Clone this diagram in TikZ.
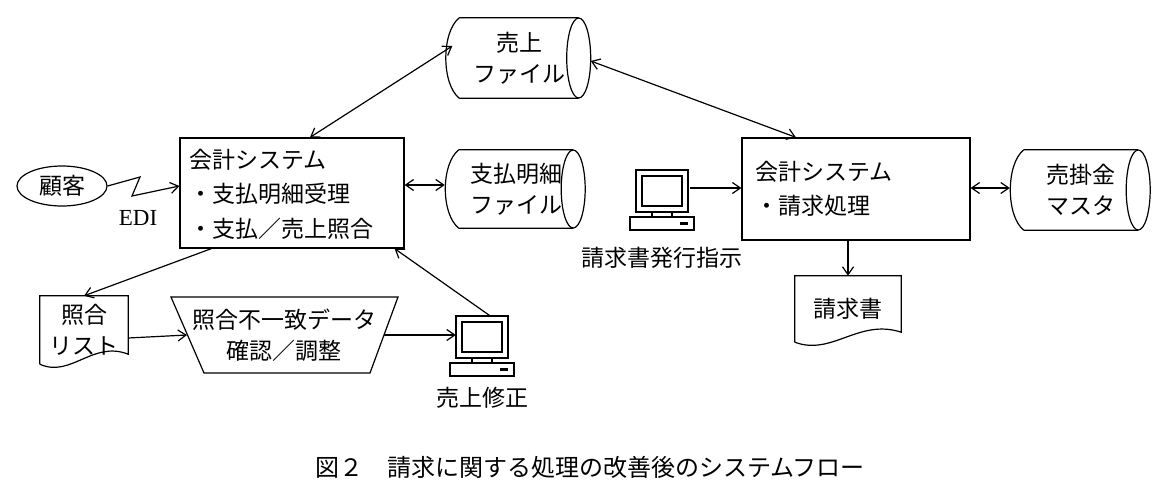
\documentclass[tikz,border=0pt]{standalone}
\usepackage{fontspec}
\setmainfont{Noto Sans CJK JP}
\newfontfamily\edifont{Liberation Serif}
\usetikzlibrary{arrows.meta,calc,shapes.geometric}
\tikzset{
  every node/.style={font=\fontsize{23}{31}\selectfont},
  ln/.style={line width=1.2pt},
  arr/.style={ln,-{Straight Barb[length=8pt,width=11pt]}},
  darr/.style={ln,{Straight Barb[length=8pt,width=11pt]}-{Straight Barb[length=8pt,width=11pt]}},
  terminal/.pic={
    \draw[ln] (-26,-30) rectangle (26,12);
    \draw[ln] (-20,-24) rectangle (20,6);
    \draw[ln] (-10,12) rectangle (10,17);
    \draw[ln] (-32,17) rectangle (32,30);
    \fill (18,22) rectangle (26,25);
  }
}
\newcommand\drumshape[2]{%
  \draw[ln] ($(#1.north west)+(12,0)$) -- ($(#1.north east)+(-12,0)$)
    ($(#1.south west)+(12,0)$) -- ($(#1.south east)+(-12,0)$)
    ($(#1.south west)+(12,0)$) .. controls ($(#1.south west)+(-6,-14)$) and ($(#1.north west)+(-6,14)$) .. ($(#1.north west)+(12,0)$);
  \draw[ln] ($(#1.east)+(-12,0)$) ellipse [x radius=12, y radius=#2];}
\newcommand\docshape[1]{%
  \draw[ln] (#1.south west) -- (#1.north west) -- (#1.north east) -- ($(#1.south east)+(0,-10)$)
    .. controls ($(#1.south west)!0.6!(#1.south east)+(0,-24)$) and ($(#1.south west)!0.35!(#1.south east)+(0,14)$) .. (#1.south west);}
\begin{document}
\begin{tikzpicture}[x=1pt,y=-1pt]
\useasboundingbox (0,0) rectangle (1176,498);
% drums
\node[minimum width=143, minimum height=80, align=center, text width=125] (uf) at (519,58) {売上\\ファイル};
\drumshape{uf}{40}
\node[minimum width=138, minimum height=78, align=center, text width=125] (sf) at (516,189) {支払明細\\ファイル};
\drumshape{sf}{39}
\node[minimum width=138, minimum height=80, align=center, text width=125] (um) at (1081,190) {売掛金\\マスタ};
\drumshape{um}{40}
% boxes
\node[ln,draw, minimum width=224, minimum height=110] (b1) at (292,193) {};
\node[anchor=west] (b1t1) at (186,160) {会計システム};
\node[anchor=west] (b1t2) at (186,194) {・支払明細受理};
\node[anchor=west] (b1t3) at (186,229) {・支払／売上照合};
\node[ln,draw, minimum width=228, minimum height=102] (b2) at (856,189) {};
\node[anchor=west] (b2t1) at (752,172) {会計システム};
\node[anchor=west] (b2t2) at (752,206) {・請求処理};
% customer
\node[ln,draw,ellipse,minimum width=90,minimum height=40,inner sep=0] (cu) at (62,186) {顧客};
\node (edi) at (138,218) {\edifont EDI};
% documents
\node[minimum width=88, minimum height=68, align=center] (sl) at (84,330) {照合\\リスト};
\docshape{sl}
\node[minimum width=106, minimum height=66] (inv) at (848,309) {請求書};
\docshape{inv}
% trapezoid
\node[align=center] (tr) at (284,335) {照合不一致データ\\確認／調整};
\draw[ln] (171,297) -- (398,297) -- (370,373) -- (204,373) -- cycle;
\coordinate (trw) at (187,335);
\coordinate (tre) at (384,335);
% terminals
\pic at (662,200) {terminal};
\node[minimum width=64,minimum height=60] (t1) at (662,200) {};
\node (t1l) at (662,258) {請求書発行指示};
\pic at (482,346) {terminal};
\node[minimum width=64,minimum height=60] (t2) at (482,346) {};
\node (t2l) at (482,398) {売上修正};
% caption
\node[font=\fontsize{24}{28}\selectfont] (cap) at (590,467) {図２\quad 請求に関する処理の改善後のシステムフロー};
% connectors
\draw[darr] ($(b1.north)+(18,0)$) -- ($(uf.west)+(5,-12)$);
\draw[darr] ($(uf.east)+(0,3)$) -- ($(b2.north)+(-60,0)$);
\draw[darr] ($(b1.east)+(0,-8)$) -- ($(sf.west)+(-2,-4)$);
\draw[darr] ($(b2.east)+(0,-1)$) -- ($(um.west)+(-2,-2)$);
\draw[arr] (cu.east) -- (140,177) -- (132,196) -- ($(b1.west)+(0,-7)$);
\draw[arr] ($(b1.south west)+(32,0)$) -- (sl.north);
\draw[arr] ($(sl.east)+(0,8)$) -- ($(trw)+(0,0)$);
\draw[arr] (tre) -- ($(t2.west)+(6,-11)$);
\draw[arr] ($(t2.north)+(8,0)$) -- ($(b1.south east)+(-10,0)$);
\draw[arr] ($(t1.east)+(-4,-12)$) -- ($(b2.west)+(0,-1)$);
\draw[arr] ($(b2.south)+(-8,0)$) -- ($(inv.north)+(0,0)$);
\end{tikzpicture}
\end{document}
